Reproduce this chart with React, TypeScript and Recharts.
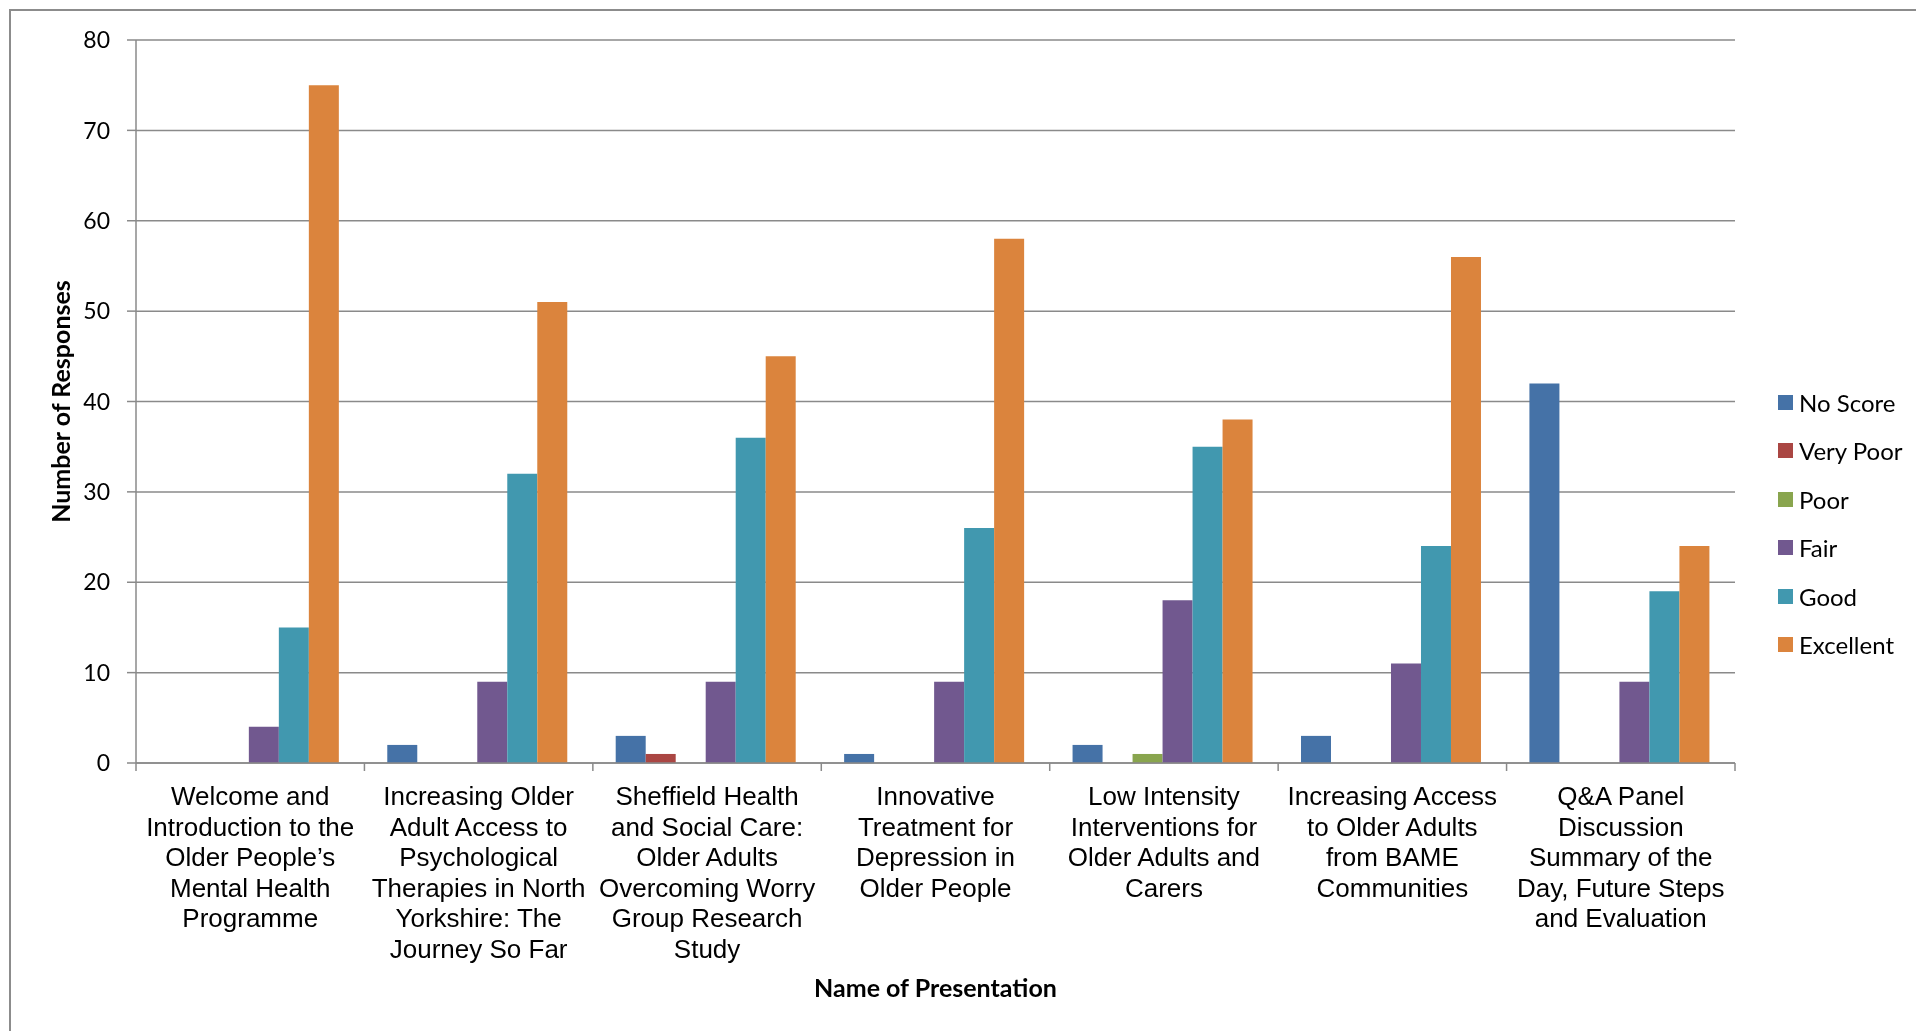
import React from "react";
import { BarChart, Bar, XAxis, YAxis, CartesianGrid } from "recharts";

// category names keep the line breaks the original chart wrapped them at
const categories = [
  "Welcome and\nIntroduction to the\nOlder People\u2019s\nMental Health\nProgramme",
  "Increasing Older\nAdult Access to\nPsychological\nTherapies in North\nYorkshire: The\nJourney So Far",
  "Sheffield Health\nand Social Care:\nOlder Adults\nOvercoming Worry\nGroup Research\nStudy",
  "Innovative\nTreatment for\nDepression in\nOlder People",
  "Low Intensity\nInterventions for\nOlder Adults and\nCarers",
  "Increasing Access\nto Older Adults\nfrom BAME\nCommunities",
  "Q&A Panel\nDiscussion\nSummary of the\nDay, Future Steps\nand Evaluation",
];

const noScore = [0, 2, 3, 1, 2, 3, 42];
const veryPoor = [0, 0, 1, 0, 0, 0, 0];
const poor = [0, 0, 0, 0, 1, 0, 0];
const fair = [4, 9, 9, 9, 18, 11, 9];
const good = [15, 32, 36, 26, 35, 24, 19];
const excellent = [75, 51, 45, 58, 38, 56, 24];

const seriesNames = ["No Score", "Very Poor", "Poor", "Fair", "Good", "Excellent"];
const seriesColors = ["#4572A7", "#AA4643", "#89A54E", "#71588F", "#4198AF", "#DB843D"];
const seriesValues = [noScore, veryPoor, poor, fair, good, excellent];

const yTicks = [0, 10, 20, 30, 40, 50, 60, 70, 80];

const data = categories.map((name, i) => {
  const row: Record<string, string | number> = { name };
  seriesNames.forEach((s, k) => (row[s] = seriesValues[k][i]));
  return row;
});

const GREY = "#8a8a8a";
const W = 1900;
const H = 1015;
const M = { top: 32, right: 173, bottom: 60, left: 0 };
const BAND = (W - M.left - M.right - 128) / categories.length;

function CategoryTick(props: any) {
  const { x, y, payload, index } = props;
  const off = payload?.offset ?? BAND / 2;
  const lines = String(payload.value).split("\n");
  return (
    <g>
      <line x1={x - off} x2={x - off} y1={y} y2={y + 8} stroke={GREY} strokeWidth={1.5} />
      {index === categories.length - 1 && (
        <line x1={x + off} x2={x + off} y1={y} y2={y + 8} stroke={GREY} strokeWidth={1.5} />
      )}
      <text
        x={x}
        y={y + 42}
        textAnchor="middle"
        fill="#000"
        fontSize={26}
        fontFamily="'Liberation Sans', Arial, sans-serif"
      >
        {lines.map((l, i) => (
          <tspan key={i} x={x} dy={i === 0 ? 0 : 30.6}>
            {l}
          </tspan>
        ))}
      </text>
    </g>
  );
}

export default function App() {
  return (
    <div style={{ position: "relative", width: W, height: H }}>
      <div
        style={{
          position: "fixed",
          left: 9,
          top: 9,
          right: 0,
          bottom: 0,
          borderTop: "2px solid #8c8c8c",
          borderLeft: "2px solid #8c8c8c",
          pointerEvents: "none",
        }}
      />
      <BarChart
        width={W}
        height={H}
        data={data}
        margin={M}
        barCategoryGap="10%"
        barGap={0}
      >
        <CartesianGrid vertical={false} stroke={GREY} strokeWidth={1.5} />
        <XAxis
          dataKey="name"
          interval={0}
          height={200}
          tickSize={0}
          tickMargin={0}
          tickLine={false}
          axisLine={{ stroke: GREY, strokeWidth: 1.5 }}
          tick={<CategoryTick />}
          label={{
            content: (p: any) => {
              const vb = p.viewBox || { x: 128, y: 755, width: 1599 };
              return (
                <text
                  x={vb.x + vb.width / 2}
                  y={vb.y + 224}
                  textAnchor="middle"
                  dominantBaseline="central"
                  fontSize={25}
                  fontWeight="bold"
                  fontFamily="Lato, sans-serif"
                  fill="#000"
                >
                  Name of Presentation
                </text>
              );
            },
          }}
        />
        <YAxis
          domain={[0, 80]}
          ticks={yTicks}
          interval={0}
          width={128}
          tickSize={9}
          tickMargin={17}
          axisLine={{ stroke: GREY, strokeWidth: 1.5 }}
          tickLine={{ stroke: GREY, strokeWidth: 1.5 }}
          tick={{ fill: "#000", fontSize: 23, fontFamily: "Lato, sans-serif" }}
          label={{
            content: (p: any) => {
              const vb = p.viewBox || { y: 32, height: 723 };
              const cy = vb.y + vb.height / 2;
              return (
                <text
                  x={52}
                  y={cy}
                  transform={`rotate(-90, 52, ${cy})`}
                  textAnchor="middle"
                  dominantBaseline="central"
                  fontSize={25}
                  fontWeight="bold"
                  fontFamily="Lato, sans-serif"
                  fill="#000"
                >
                  Number of Responses
                </text>
              );
            },
          }}
        />
        {seriesNames.map((s, k) => (
          <Bar key={s} dataKey={s} fill={seriesColors[k]} isAnimationActive={false} />
        ))}
      </BarChart>
      <div style={{ position: "absolute", left: 1770, top: 370.3, fontFamily: "Lato, sans-serif", fontSize: 24 }}>
        {seriesNames.map((s, k) => (
          <div key={s} style={{ height: 48.4, display: "flex", alignItems: "center" }}>
            <span style={{ width: 15, height: 15, background: seriesColors[k], display: "inline-block", marginRight: 6 }} />
            <span>{s}</span>
          </div>
        ))}
      </div>
    </div>
  );
}
